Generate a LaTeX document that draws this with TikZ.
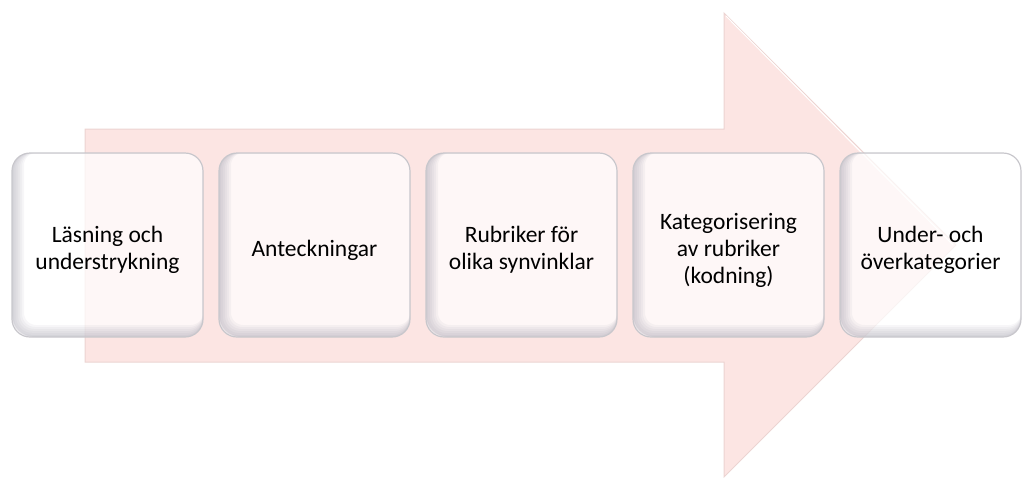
\documentclass[tikz,border=0pt]{standalone}
\usepackage{fontspec}
\setmainfont{Carlito}
\definecolor{arrowpink}{RGB}{252,229,227}
\definecolor{arrowedge}{RGB}{236,212,210}
\definecolor{boxedge}{RGB}{200,199,204}
\definecolor{innershade}{RGB}{140,136,155}
\tikzset{
  stagefill/.style={fill=white, fill opacity=0.72, rounded corners=18pt},
  stagebox/.style={draw=boxedge, line width=1.2pt, rounded corners=18pt,
    minimum height=184pt, inner sep=0pt, align=center, text=black,
    font=\fontsize{23.5}{27}\selectfont},
  shadelayer/.style={draw=innershade, draw opacity=0.07, rounded corners=18pt}
}
% one process step: left x, right x, node name, label
\newcommand\stepstage[4]{%
  \path[stagefill] (#1,153) rectangle (#2,337);
  \begin{scope}
    \clip[rounded corners=18pt] (#1,153) rectangle (#2,337);
    \foreach \s in {1,...,6}
      \draw[shadelayer, line width=2*\s pt, xshift=\s pt, yshift=\s pt]
        (#1,153) rectangle (#2,337);
  \end{scope}
  \draw[boxedge, line width=1.2pt, rounded corners=18pt] (#1,153) rectangle (#2,337);
  \node[align=center, text=black, inner sep=0pt,
    font=\fontsize{23.5}{27}\selectfont] (#3) at ({(#1+#2)/2},250) {#4};
}
\begin{document}
\begin{tikzpicture}[x=1pt,y=-1pt]
\useasboundingbox (0,0) rectangle (1023,477);
% the large arrow behind the steps
\draw[fill=arrowpink, draw=arrowedge, line width=1pt, line join=miter]
  (85,129) -- (724,129) -- (724,13) -- (956,245) -- (724,477)
  -- (724,362) -- (85,362) -- cycle;
\draw[white, line width=1pt] (726,16) -- (953,245);
% the five steps
\stepstage{12}{203}{s1}{Läsning och\\understrykning}
\stepstage{219}{410}{s2}{Anteckningar}
\stepstage{426}{617}{s3}{Rubriker för\\olika synvinklar}
\stepstage{633}{824}{s4}{Kategorisering\\av rubriker\\(kodning)}
\stepstage{840}{1021}{s5}{Under- och\\överkategorier}
\end{tikzpicture}
\end{document}
